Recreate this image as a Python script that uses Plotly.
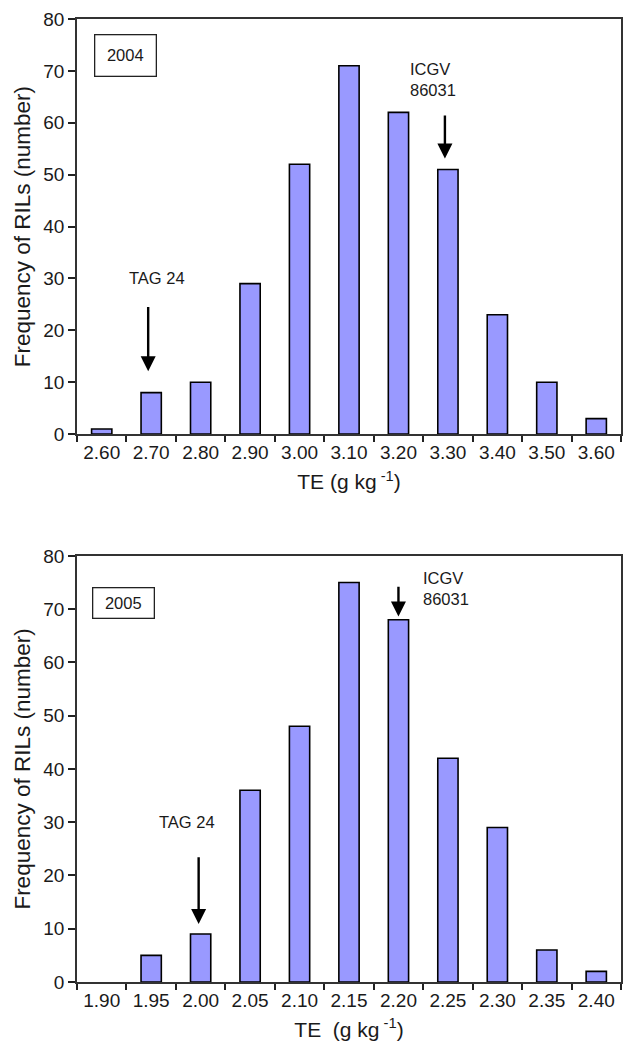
import plotly.graph_objects as go

# ---------------- data ----------------
cats_2004 = ["2.60", "2.70", "2.80", "2.90", "3.00", "3.10", "3.20", "3.30", "3.40", "3.50", "3.60"]
freq_2004 = [1, 8, 10, 29, 52, 71, 62, 51, 23, 10, 3]

cats_2005 = ["1.90", "1.95", "2.00", "2.05", "2.10", "2.15", "2.20", "2.25", "2.30", "2.35", "2.40"]
freq_2005 = [0, 5, 9, 36, 48, 75, 68, 42, 29, 6, 2]

y_ticks = [0, 10, 20, 30, 40, 50, 60, 70, 80]

FONT = "Liberation Sans, Arial, sans-serif"
BAR_COLOR = "#9999FF"
TXT = "#1a1a1a"


def outline_widths(vals):
    # no outline for empty bins (nothing drawn in the reference)
    return [0 if v == 0 else 1.6 for v in vals]


fig = go.Figure()
fig.add_trace(go.Bar(x=cats_2004, y=freq_2004, xaxis="x", yaxis="y",
                     marker=dict(color=BAR_COLOR,
                                 line=dict(color="black", width=outline_widths(freq_2004))),
                     showlegend=False))
fig.add_trace(go.Bar(x=cats_2005, y=freq_2005, xaxis="x2", yaxis="y2",
                     marker=dict(color=BAR_COLOR,
                                 line=dict(color="black", width=outline_widths(freq_2005))),
                     showlegend=False))

common_x = dict(type="category", range=[-0.5, 10.5], tickson="boundaries",
                ticks="outside", ticklen=6, tickwidth=1.5, tickcolor="#222",
                showline=True, linecolor="#333", linewidth=1.6, mirror=True,
                showgrid=False, zeroline=False,
                tickfont=dict(family=FONT, size=19, color=TXT),
                title_font=dict(family=FONT, size=21, color=TXT),
                title_standoff=13)
common_y = dict(range=[0, 80], tickvals=y_ticks, ticks="outside", ticklen=7,
                tickwidth=1.5, tickcolor="#222",
                showline=True, linecolor="#333", linewidth=1.6, mirror=True,
                showgrid=False, zeroline=False,
                tickfont=dict(family=FONT, size=19, color=TXT),
                title_font=dict(family=FONT, size=22.5, color=TXT),
                title_standoff=6)

fig.update_layout(
    width=632, height=1047,
    margin=dict(l=77, r=9, t=17, b=65),
    paper_bgcolor="white", plot_bgcolor="white",
    bargap=0.59,
    font=dict(family=FONT, color=TXT),
    xaxis=dict(common_x, domain=[0, 1], anchor="y",
               title_text="TE (g kg<sup> -1</sup>)"),
    yaxis=dict(common_y, domain=[0.5689, 1], anchor="x",
               title_text="Frequency of RILs (number)"),
    xaxis2=dict(common_x, domain=[0, 1], anchor="y2",
                title_text="TE  (g kg<sup> -1</sup>)"),
    yaxis2=dict(common_y, domain=[0, 0.4425], anchor="x2",
                title_text="Frequency of RILs (number)"),
)

ann = []
# year boxes
ann.append(dict(text="2004", xref="x domain", yref="y domain", x=0.090, y=0.913,
                xanchor="center", yanchor="middle",
                showarrow=False, width=58, height=38, borderpad=1,
                bordercolor="#222", borderwidth=1.3, bgcolor="white",
                font=dict(family=FONT, size=16.5, color=TXT)))
ann.append(dict(text="2005", xref="x2 domain", yref="y2 domain", x=0.085, y=0.889,
                xanchor="center", yanchor="middle",
                showarrow=False, width=58, height=27, borderpad=1,
                bordercolor="#222", borderwidth=1.3, bgcolor="white",
                font=dict(family=FONT, size=16.5, color=TXT)))


def arrow(xref, yref, xi, y_head, y_tail, xshift=0):
    return dict(xref=xref, yref=yref, axref=xref, ayref=yref,
                x=xi, y=y_head, ax=xi, ay=y_tail, text="", showarrow=True,
                arrowhead=2, arrowsize=1.25, arrowwidth=2.4, arrowcolor="black",
                xshift=xshift)


def label(xref, yref, xi, y, text, xshift=0, xanchor="center", align="center"):
    return dict(xref=xref, yref=yref, x=xi, y=y, text=text, showarrow=False,
                xshift=xshift, xanchor=xanchor, yanchor="middle", align=align,
                font=dict(family=FONT, size=16.5, color=TXT))


# 2004 panel
i_tag04 = cats_2004.index("2.70")
i_icg04 = cats_2004.index("3.30")
ann.append(label("x", "y", i_tag04, 30, "TAG 24", xshift=6))
ann.append(arrow("x", "y", i_tag04, 12.1, 24.8, xshift=-3))
ann.append(label("x", "y", i_icg04, 68.3, "ICGV<br>86031", xshift=-40,
                 xanchor="left", align="left"))
ann.append(arrow("x", "y", i_icg04, 53.1, 61.7, xshift=-3))

# 2005 panel
i_tag05 = cats_2005.index("2.00")
i_icg05 = cats_2005.index("2.20")
ann.append(label("x2", "y2", i_tag05, 30, "TAG 24", xshift=-14))
ann.append(arrow("x2", "y2", i_tag05, 10.9, 23.7, xshift=-2))
ann.append(label("x2", "y2", i_icg05, 73.9, "ICGV<br>86031", xshift=23,
                 xanchor="left", align="left"))
ann.append(arrow("x2", "y2", i_icg05, 68.6, 74.5))

fig.update_layout(annotations=ann)

fig.write_html("out.html")
